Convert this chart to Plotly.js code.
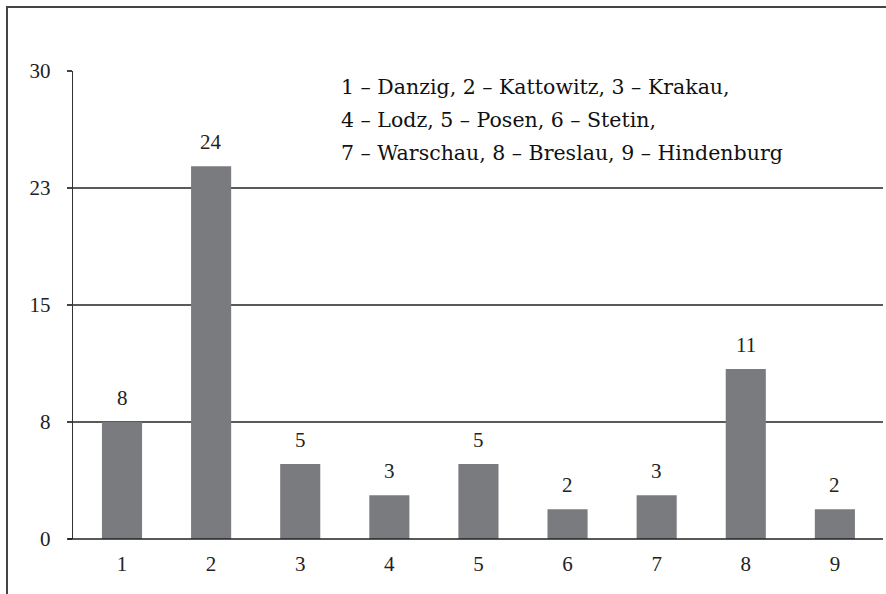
<!DOCTYPE html>
<html>
<head>
<meta charset="utf-8">
<script src="https://cdn.plot.ly/plotly-3.0.1.min.js"></script>
<style>
  html, body { margin: 0; padding: 0; background: #ffffff; }
  #chart { width: 886px; height: 594px; }
</style>
</head>
<body>
<div id="chart"></div>
<script>
// ---- data ----
var categories = [1, 2, 3, 4, 5, 6, 7, 8, 9];
var categoryLabels = ['1', '2', '3', '4', '5', '6', '7', '8', '9'];
var values = [7.5, 23.9, 4.8, 2.8, 4.8, 1.9, 2.8, 10.9, 1.9];
var valueLabels = ['8', '24', '5', '3', '5', '2', '3', '11', '2'];
var yTickVals = [0, 7.5, 15, 22.5, 30];
var yTickText = ['0', '8', '15', '23', '30'];
var legendLines = [
  '1 – Danzig, 2 – Kattowitz, 3 – Krakau,',
  '4 – Lodz, 5 – Posen, 6 – Stetin,',
  '7 – Warschau, 8 – Breslau, 9 – Hindenburg'
];

// ---- layout geometry ----
var W = 886, H = 594;
var mL = 73, mR = 3, mT = 71, mB = 55;
var plotW = W - mL - mR, plotH = H - mT - mB;
function px2paperX(px) { return (px - mL) / plotW; }
function px2paperY(py) { return (H - mB - py) / plotH; }

var serif = "'Liberation Serif', 'Times New Roman', Times, serif";
var legendFont = "'DejaVu Serif', serif";

var trace = {
  type: 'bar',
  x: categories,
  y: values,
  width: 0.45,
  marker: { color: '#7a7b7f', line: { width: 0 } },
  hoverinfo: 'skip'
};

var annotations = [];
for (var i = 0; i < categories.length; i++) {
  annotations.push({
    x: categories[i], y: values[i], xref: 'x', yref: 'y',
    text: valueLabels[i], showarrow: false,
    xanchor: 'center', yanchor: 'bottom', yshift: 10,
    font: { family: serif, size: 21, color: '#222' }
  });
}
var legendY = [86, 119, 152];
for (var j = 0; j < legendLines.length; j++) {
  annotations.push({
    x: px2paperX(339), y: px2paperY(legendY[j] + 1), xref: 'paper', yref: 'paper',
    text: legendLines[j], showarrow: false,
    xanchor: 'left', yanchor: 'middle', align: 'left',
    font: { family: legendFont, size: 20.5, color: '#111' }
  });
}

var layout = {
  width: W, height: H,
  margin: { l: mL, r: mR, t: mT, b: mB, pad: 0 },
  paper_bgcolor: '#ffffff',
  plot_bgcolor: '#ffffff',
  showlegend: false,
  xaxis: {
    range: [0.45, 9.54],
    tickvals: categories,
    ticktext: categoryLabels,
    showgrid: false,
    zeroline: false,
    ticks: '',
    showline: false,
    ticklabelstandoff: 10,
    tickfont: { family: serif, size: 21, color: '#222' },
    fixedrange: true
  },
  yaxis: {
    range: [0, 30],
    tickvals: yTickVals,
    ticktext: yTickText,
    showgrid: true,
    gridcolor: '#5a5a5a',
    gridwidth: 1.5,
    zeroline: false,
    showline: true,
    linecolor: '#333',
    linewidth: 1.2,
    ticks: 'outside',
    ticklen: 5,
    tickcolor: '#444',
    tickwidth: 1.2,
    ticklabelstandoff: 12,
    tickfont: { family: serif, size: 21, color: '#222' },
    fixedrange: true
  },
  shapes: [
    {
      type: 'line', xref: 'paper', yref: 'paper',
      x0: px2paperX(68), x1: px2paperX(883), y0: 0, y1: 0,
      line: { color: '#222', width: 1.5 }
    },
    {
      type: 'rect', xref: 'paper', yref: 'paper',
      x0: px2paperX(7), x1: px2paperX(W + 10),
      y0: px2paperY(H + 10), y1: px2paperY(7),
      line: { color: '#444', width: 2 }, fillcolor: 'rgba(0,0,0,0)'
    }
  ],
  annotations: annotations
};

Plotly.newPlot('chart', [trace], layout, { displayModeBar: false, staticPlot: true });
</script>
</body>
</html>
